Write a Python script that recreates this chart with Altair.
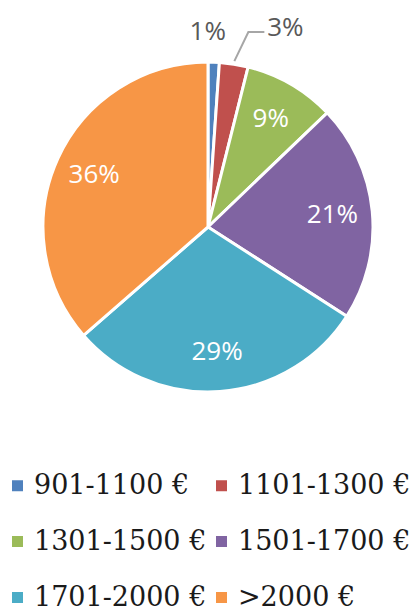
import math
import altair as alt
import pandas as pd

categories = ["901-1100 €", "1101-1300 €", "1301-1500 €", "1501-1700 €", "1701-2000 €", ">2000 €"]
shares = [1.1, 2.8, 8.9, 21.2, 29.4, 36.3]
labels = ["1%", "3%", "9%", "21%", "29%", "36%"]
colors = ["#4F81BD", "#C0504D", "#9BBB59", "#8064A2", "#4BACC6", "#F79646"]

R = 165
df = pd.DataFrame({
    "cat": categories,
    "value": shares,
    "ord": list(range(len(categories))),
    "inner": [l if v >= 5 else "" for l, v in zip(labels, shares)],
    "out1": [labels[0]] + [""] * 5,
    "out2": ["", labels[1]] + [""] * 4,
})

# leader line for the 3% label, derived from the slice mid-angle
tot = sum(shares)
mid = (shares[0] + shares[1] / 2) / tot * 2 * math.pi
sx, sy = 168 * math.sin(mid), 168 * math.cos(mid)
lead = pd.DataFrame({
    "x": [sx, sx + 14, sx + 30],
    "y": [sy, 195, 195],
    "i": [0, 1, 2],
})

base = alt.Chart(df).encode(
    theta=alt.Theta("value:Q", stack=True),
    order=alt.Order("ord:Q"),
)

pie = base.mark_arc(outerRadius=R, stroke="white", strokeWidth=3).encode(
    color=alt.Color(
        "cat:N",
        scale=alt.Scale(domain=categories, range=colors),
        sort=categories,
        legend=alt.Legend(
            title=None, orient="none", legendX=-39, legendY=410, columns=2,
            direction="horizontal",
            symbolType="square", symbolSize=121, symbolStrokeWidth=0,
            labelFont="DejaVu Serif", labelFontSize=27, labelColor="#1a1a1a",
            labelLimit=400, labelOffset=3, rowPadding=28, columnPadding=1,
            padding=0,
        ),
    )
)

inner = base.mark_text(radius=125, font="Open Sans", fontSize=26, color="white").encode(
    text="inner:N"
)
o1 = base.mark_text(radius=195, font="Open Sans", fontSize=26, color="#595959", dx=-7).encode(
    text="out1:N"
)
o2 = base.mark_text(radius=200, font="Open Sans", fontSize=26, color="#595959", dx=46, dy=-1).encode(
    text="out2:N"
)

line = alt.Chart(lead).mark_line(color="#A6A6A6", strokeWidth=2).encode(
    x=alt.X("x:Q", scale=alt.Scale(domain=[-R, R]), axis=None),
    y=alt.Y("y:Q", scale=alt.Scale(domain=[-R, R]), axis=None),
    order="i:Q",
)

chart = alt.layer(pie, line, inner, o1, o2).properties(
    width=330, height=330, autosize="none",
    padding={"left": 35, "top": 54, "right": 37, "bottom": 220},
).configure_view(stroke=None)

chart.save("out.html", embed_options={"renderer": "svg", "actions": False})
